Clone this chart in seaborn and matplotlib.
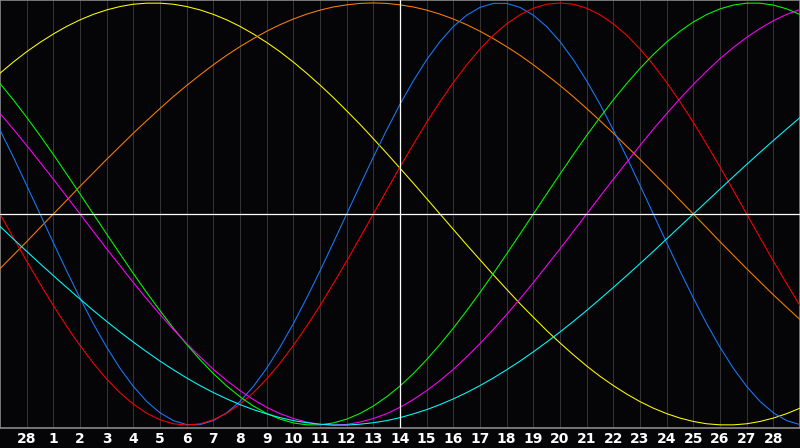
import seaborn as sns
import matplotlib.pyplot as plt
import pandas as pd

# half-day positions (0 = left edge, 15 = today) and the tick labels under the days
days = [i / 2 for i in range(61)]
tick_days = list(range(1, 30))
tick_labels = ["28"] + [str(d) for d in range(1, 29)]
today = 15

# cycle values every half day, -1 .. 1
yellow = [0.667, 0.720, 0.769, 0.813, 0.853, 0.889, 0.920, 0.946, 0.967, 0.983,
          0.994, 0.999, 0.999, 0.994, 0.983, 0.967, 0.946, 0.920, 0.889, 0.853,
          0.813, 0.769, 0.720, 0.667, 0.611, 0.552, 0.489, 0.425, 0.357, 0.288,
          0.217, 0.146, 0.073, 0.0, -0.073, -0.146, -0.217, -0.288, -0.357,
          -0.425, -0.489, -0.552, -0.611, -0.667, -0.720, -0.769, -0.813, -0.853,
          -0.889, -0.920, -0.946, -0.967, -0.983, -0.994, -0.999, -0.999, -0.994,
          -0.983, -0.967, -0.946, -0.920]
orange = [-0.259, -0.195, -0.131, -0.065, 0.0, 0.065, 0.131, 0.195, 0.259, 0.321,
          0.383, 0.442, 0.500, 0.556, 0.609, 0.659, 0.707, 0.752, 0.793, 0.831,
          0.866, 0.897, 0.924, 0.947, 0.966, 0.981, 0.991, 0.998, 1.0, 0.998,
          0.991, 0.981, 0.966, 0.947, 0.924, 0.897, 0.866, 0.831, 0.793, 0.752,
          0.707, 0.659, 0.609, 0.556, 0.500, 0.442, 0.383, 0.321, 0.259, 0.195,
          0.131, 0.065, 0.0, -0.065, -0.131, -0.195, -0.259, -0.321, -0.383,
          -0.442, -0.500]
blue = [0.398, 0.270, 0.136, 0.0, -0.136, -0.270, -0.398, -0.520, -0.631, -0.731,
        -0.817, -0.888, -0.942, -0.979, -0.998, -0.998, -0.979, -0.942, -0.888,
        -0.817, -0.731, -0.631, -0.520, -0.398, -0.270, -0.136, 0.0, 0.136, 0.270,
        0.398, 0.520, 0.631, 0.731, 0.817, 0.888, 0.942, 0.979, 0.998, 0.998,
        0.979, 0.942, 0.888, 0.817, 0.731, 0.631, 0.520, 0.398, 0.270, 0.136, 0.0,
        -0.136, -0.270, -0.398, -0.520, -0.631, -0.731, -0.817, -0.888, -0.942,
        -0.979, -0.998]
red = [0.0, -0.112, -0.223, -0.330, -0.434, -0.532, -0.623, -0.707, -0.782, -0.847,
       -0.901, -0.944, -0.975, -0.994, -1.0, -0.994, -0.975, -0.944, -0.901, -0.847,
       -0.782, -0.707, -0.623, -0.532, -0.434, -0.330, -0.223, -0.112, 0.0, 0.112,
       0.223, 0.330, 0.434, 0.532, 0.623, 0.707, 0.782, 0.847, 0.901, 0.944, 0.975,
       0.994, 1.0, 0.994, 0.975, 0.944, 0.901, 0.847, 0.782, 0.707, 0.623, 0.532,
       0.434, 0.330, 0.223, 0.112, 0.0, -0.112, -0.223, -0.330, -0.434]
green = [0.618, 0.541, 0.458, 0.372, 0.282, 0.189, 0.095, 0.0, -0.095, -0.189,
         -0.282, -0.372, -0.458, -0.541, -0.618, -0.690, -0.756, -0.815, -0.866,
         -0.910, -0.945, -0.972, -0.990, -0.999, -0.999, -0.990, -0.972, -0.945,
         -0.910, -0.866, -0.815, -0.756, -0.690, -0.618, -0.541, -0.458, -0.372,
         -0.282, -0.189, -0.095, 0.0, 0.095, 0.189, 0.282, 0.372, 0.458, 0.541,
         0.618, 0.690, 0.756, 0.815, 0.866, 0.910, 0.945, 0.972, 0.990, 0.999,
         0.999, 0.990, 0.972, 0.945]
magenta = [0.476, 0.402, 0.325, 0.245, 0.165, 0.083, 0.0, -0.083, -0.165, -0.245,
           -0.325, -0.402, -0.476, -0.547, -0.614, -0.677, -0.736, -0.789, -0.837,
           -0.879, -0.916, -0.946, -0.969, -0.986, -0.997, -1.0, -0.997, -0.986,
           -0.969, -0.946, -0.916, -0.879, -0.837, -0.789, -0.736, -0.677, -0.614,
           -0.547, -0.476, -0.402, -0.325, -0.245, -0.165, -0.083, 0.0, 0.083,
           0.165, 0.245, 0.325, 0.402, 0.476, 0.547, 0.614, 0.677, 0.736, 0.789,
           0.837, 0.879, 0.916, 0.946, 0.969]
cyan = [-0.059, -0.118, -0.177, -0.235, -0.292, -0.348, -0.403, -0.457, -0.509,
        -0.559, -0.607, -0.653, -0.697, -0.738, -0.777, -0.813, -0.846, -0.876,
        -0.903, -0.927, -0.947, -0.965, -0.979, -0.989, -0.996, -1.0, -1.0, -0.996,
        -0.989, -0.979, -0.965, -0.947, -0.927, -0.903, -0.876, -0.846, -0.813,
        -0.777, -0.738, -0.697, -0.653, -0.607, -0.559, -0.509, -0.457, -0.403,
        -0.348, -0.292, -0.235, -0.177, -0.118, -0.059, 0.0, 0.059, 0.118, 0.177,
        0.235, 0.292, 0.348, 0.403, 0.457]

series = {"yellow": yellow, "orange": orange, "blue": blue, "red": red,
          "green": green, "magenta": magenta, "cyan": cyan}
colors = {"yellow": "#ffff00", "orange": "#ff8000", "blue": "#1a7aff",
          "red": "#ff0000", "green": "#00ff00", "magenta": "#ff00ff",
          "cyan": "#00ffff"}

rows = []
for name, vals in series.items():
    for d, v in zip(days, vals):
        rows.append({"day": d, "value": v, "cycle": name})
df = pd.DataFrame(rows)

bg = "#050508"
sns.set_style("dark", {"axes.facecolor": bg, "figure.facecolor": bg})
plt.rcParams["font.family"] = ["DejaVu Sans"]

fig = plt.figure(figsize=(8, 4.48), dpi=100)
ax = fig.add_axes([0, 20 / 448, 1, 428 / 448])

# day grid
for d in tick_days:
    ax.axvline(d, color="#333333", linewidth=0.72, zorder=1)

sns.lineplot(data=df, x="day", y="value", hue="cycle", palette=colors,
             linewidth=0.75, legend=False, ax=ax, zorder=3)

# today / zero cross
ax.axhline(0, color="white", linewidth=0.9, zorder=4)
ax.axvline(today, color="white", linewidth=0.9, zorder=4)

ax.set_xlim(0, 30)
ax.set_ylim(-1.014, 1.014)
ax.set_xticks(tick_days)
ax.set_xticklabels(tick_labels, color="white", fontsize=10, fontweight="bold")
ax.set_yticks([])
ax.tick_params(axis="x", length=0, pad=3)
ax.set_xlabel("")
ax.set_ylabel("")

for side in ["left", "bottom", "right", "top"]:
    ax.spines[side].set_visible(True)
    ax.spines[side].set_color("#8a8a8a")
    ax.spines[side].set_linewidth(1.2)

fig.savefig("out.png", dpi=100, facecolor=bg)
